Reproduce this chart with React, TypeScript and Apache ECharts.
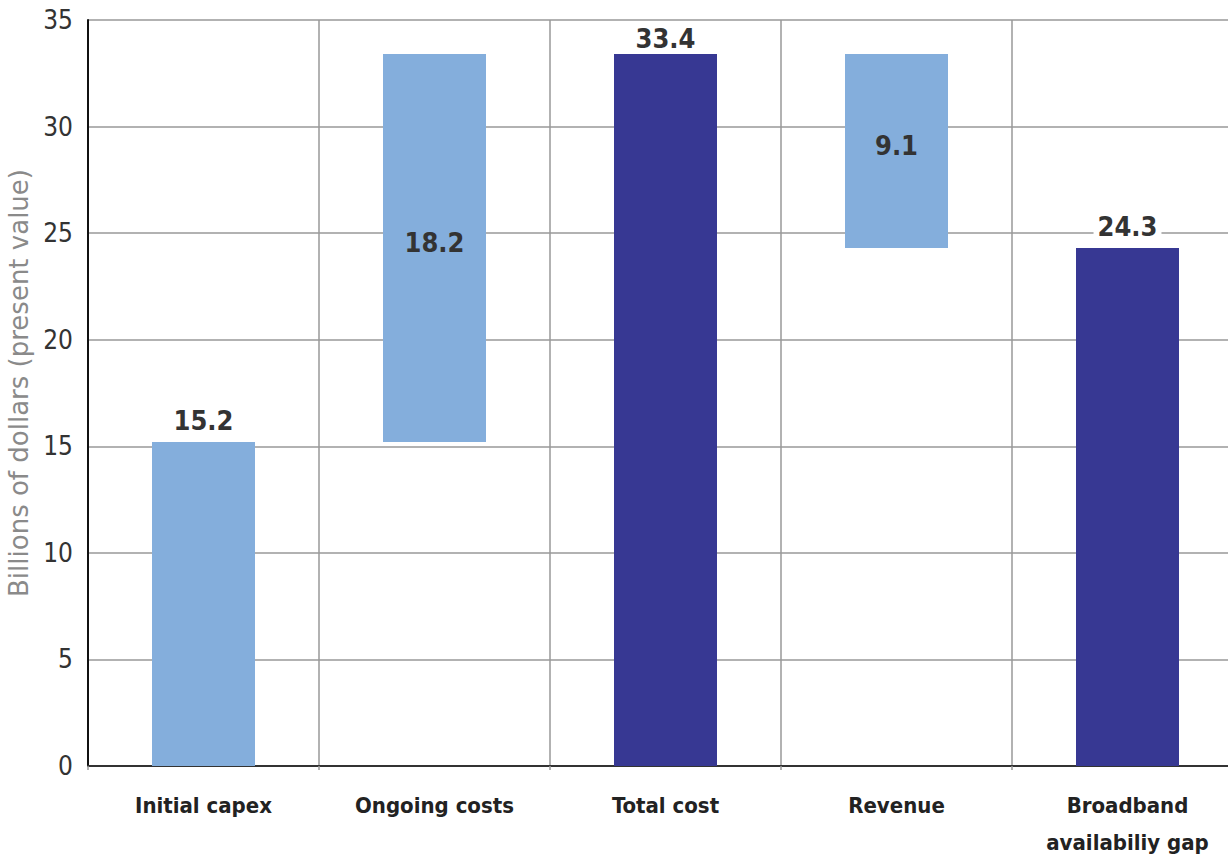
import React, { useEffect, useRef } from "react";
import * as echarts from "echarts";

// Waterfall of broadband costs and revenue (billions of dollars, present value)
const categories = ["Initial capex", "Ongoing costs", "Total cost", "Revenue", "Broadband\navailabiliy gap"];
const baseValues = [0, 15.2, 0, 24.3, 0];
const barValues = [15.2, 18.2, 33.4, 9.1, 24.3];
const isTotal = [false, false, true, false, true];
const labelInside = [false, true, false, true, false];
const yTicks = { min: 0, max: 35, interval: 5 };

const LIGHT = "#84AEDC";
const DARK = "#373893";
const NARROW = "'DejaVu Sans Condensed', 'Liberation Sans Narrow', sans-serif";

export default function App() {
  const ref = useRef<HTMLDivElement>(null);

  useEffect(() => {
    if (!ref.current) return;
    const chart = echarts.init(ref.current, undefined, { renderer: "svg" });

    const barData = barValues.map((v, i) => ({
      value: v,
      itemStyle: { color: isTotal[i] ? DARK : LIGHT },
      label: labelInside[i]
        ? { position: "inside" as const, offset: [0, -6], backgroundColor: "transparent" }
        : { position: "top" as const, distance: i === 2 ? 2 : 8, backgroundColor: "#fff" },
    }));

    chart.setOption({
      animation: false,
      grid: { left: 88, right: -15, top: 20, bottom: 93, containLabel: false, outerBoundsMode: "none" },
      xAxis: {
        type: "category",
        data: categories,
        axisLine: { show: true, lineStyle: { color: "#333", width: 2 } },
        axisTick: { show: true, interval: 0, length: 4, lineStyle: { color: "#999", width: 1.5 } },
        splitLine: { show: true, interval: 0, lineStyle: { color: "#999", width: 1.5 } },
        axisLabel: {
          interval: 0,
          color: "#222",
          fontFamily: NARROW,
          fontWeight: "bold",
          fontSize: 22,
          lineHeight: 37,
          margin: 21,
          verticalAlign: "top",
        },
      },
      yAxis: {
        type: "value",
        min: yTicks.min,
        max: yTicks.max,
        interval: yTicks.interval,
        name: "Billions of dollars (present value)",
        nameLocation: "middle",
        nameGap: 68,
        nameRotate: 90,
        nameTextStyle: {
          color: "#8a8a8a",
          fontFamily: "'DejaVu Sans', sans-serif",
          fontSize: 26,
          verticalAlign: "middle",
          padding: [0, 0, 0, 20],
        },
        axisLine: { show: true, lineStyle: { color: "#111", width: 2 } },
        axisTick: { show: false },
        splitLine: { show: true, lineStyle: { color: "#999", width: 1.5 } },
        axisLabel: {
          color: "#333",
          fontFamily: NARROW,
          fontSize: 26,
          margin: 15,
        },
      },
      series: [
        {
          type: "bar",
          stack: "wf",
          data: baseValues,
          itemStyle: { color: "transparent" },
          emphasis: { disabled: true },
          silent: true,
          barWidth: 103,
        },
        {
          type: "bar",
          stack: "wf",
          data: barData,
          barWidth: 103,
          label: {
            show: true,
            color: "#333",
            fontFamily: NARROW,
            fontWeight: "bold",
            fontSize: 27,
            padding: [0, 4, 0, 4],
            formatter: (p: any) => String(p.value),
          },
        },
      ],
    });

    return () => chart.dispose();
  }, []);

  return (
    <div
      ref={ref}
      style={{ position: "fixed", left: 0, top: 0, width: 1228, height: 859, background: "#fff" }}
    />
  );
}
